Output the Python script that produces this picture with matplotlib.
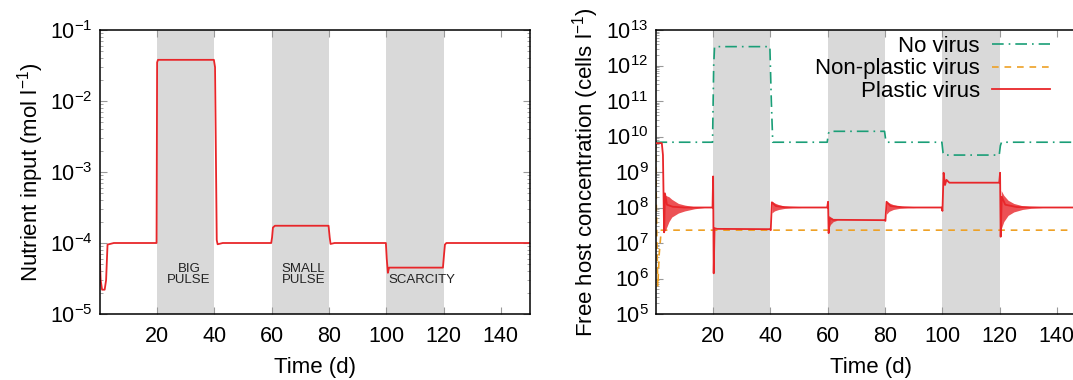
import matplotlib
matplotlib.use("Agg")
import matplotlib.pyplot as plt
import matplotlib.ticker as mticker
import numpy as np

plt.rcParams['font.family'] = ['Liberation Sans', 'DejaVu Sans']
plt.rcParams['mathtext.fontset'] = 'custom'
plt.rcParams['mathtext.rm'] = 'Liberation Sans'
plt.rcParams['mathtext.it'] = 'Liberation Sans:italic'

# --- data ---
periods = [(20, 40), (60, 80), (100, 120)]
period_labels = ["BIG\nPULSE", "SMALL\nPULSE", "SCARCITY"]
period_label_x = [31.2, 71.2, 112.3]
period_label_y = [3.6e-5, 3.6e-5, 3.0e-5]

nut_t = [0, 0.4, 0.9, 1.8, 2.3, 2.8, 5, 19.9, 20.1, 20.4, 39.9, 40.3, 40.9, 41.2, 43,
         59.9, 60.2, 60.5, 61.2, 79.9, 80.3, 80.6, 82,
         99.9, 100.2, 100.6, 101, 119.8, 120.2, 120.5, 121, 150]
nut_y = [7.6e-5, 3e-5, 2.2e-5, 2.2e-5, 3e-5, 9.5e-5, 1e-4, 1e-4, 3.5e-2, 3.8e-2, 3.8e-2, 3e-2, 1.1e-4, 9.6e-5, 1e-4,
         1e-4, 1.2e-4, 1.65e-4, 1.75e-4, 1.75e-4, 1.2e-4, 9.7e-5, 1e-4,
         1e-4, 6e-5, 3.8e-5, 4.5e-5, 4.5e-5, 7e-5, 9.5e-5, 1e-4, 1e-4]

novir_t = [0, 19.9, 20.3, 20.6, 39.9, 40.4, 40.9, 59.9, 60.3, 60.7, 79.9, 80.3, 80.7,
           99.9, 100.3, 100.7, 119.9, 120.3, 120.7, 150]
novir_y = [6.9e9, 6.9e9, 1e12, 3.4e12, 3.4e12, 1e11, 6.9e9, 6.9e9, 1.2e10, 1.4e10, 1.4e10, 8e9, 6.9e9,
           6.9e9, 3.5e9, 3.0e9, 3.0e9, 5.5e9, 6.9e9, 6.9e9]

nonpl_t = [0, 0.3, 0.8, 1.3, 2.0, 150]
nonpl_y = [6.9e9, 1e8, 6e5, 5e6, 2.3e7, 2.3e7]

plast_t = [0, 2.2, 2.6, 3.0, 3.3, 4, 6, 10, 19.9,
           20.1, 20.3, 20.6, 21.5, 39.9,
           40.2, 40.6, 42, 45, 50, 59.9,
           60.2, 60.4, 60.8, 62, 79.9,
           80.2, 80.6, 82, 86, 90, 99.8, 100.1,
           100.5, 101, 101.5, 102.5, 119.9,
           120.2, 120.4, 120.8, 122, 126, 134, 150]
plast_y = [6.5e9, 6.5e9, 3e9, 2e7, 2.5e8, 1.2e8, 1.05e8, 1e8, 1e8,
           7.5e8, 1.4e6, 2.6e7, 2.5e7, 2.45e7,
           2.3e7, 1.4e8, 1.1e8, 1.02e8, 1e8, 1e8,
           1.45e8, 1.9e7, 5e7, 4.5e7, 4.4e7,
           4.2e7, 1.45e8, 1.1e8, 1.02e8, 1e8, 1e8, 8e7,
           9.5e8, 4.3e8, 6e8, 5e8, 5e8,
           9.5e8, 1.5e7, 2e8, 1.2e8, 1.03e8, 1e8, 1e8]

# damped-oscillation envelopes of the plastic virus run (t, upper, lower)
osc_t = [[3.0, 3.5, 4.7, 5.7, 8, 10.2, 13.6, 17],
         [40.6, 41.5, 43, 45, 48, 51],
         [60.4, 61, 62, 63.5],
         [80.6, 81.5, 83, 85, 88, 91],
         [120.6, 121.5, 123, 125, 128, 131, 135]]
osc_hi = [[2.2e8, 2.2e8, 2e8, 1.7e8, 1.3e8, 1.17e8, 1.05e8, 1e8],
          [1.5e8, 1.35e8, 1.2e8, 1.1e8, 1.04e8, 1e8],
          [6e7, 5.5e7, 4.8e7, 4.4e7],
          [1.5e8, 1.35e8, 1.2e8, 1.1e8, 1.04e8, 1e8],
          [3e8, 2.2e8, 1.6e8, 1.3e8, 1.12e8, 1.05e8, 1e8]]
osc_lo = [[2.1e7, 2.3e7, 4e7, 5.4e7, 7e7, 8e7, 9.2e7, 1e8],
          [7e7, 8e7, 8.8e7, 9.4e7, 9.8e7, 1e8],
          [2.5e7, 3.3e7, 4e7, 4.4e7],
          [6.5e7, 7.8e7, 8.8e7, 9.4e7, 9.8e7, 1e8],
          [2.5e7, 4e7, 6e7, 7.5e7, 8.8e7, 9.5e7, 1e8]]

RED = '#e8262a'
GREEN = '#1a9e77'
ORANGE = '#eea125'
BAND = '#d9d9d9'

W, H = 1073, 380
fig = plt.figure(figsize=(W / 100, H / 100), dpi=100)
ax1 = fig.add_axes([99.5 / W, 66 / H, 430 / W, 284 / H])
ax2 = fig.add_axes([655.5 / W, 66 / H, 430 / W, 284 / H])


def style(ax):
    ax.set_xlim(0, 150)
    ax.set_yscale('log')
    ax.set_xticks([20, 40, 60, 80, 100, 120, 140])
    ax.yaxis.set_minor_locator(mticker.LogLocator(base=10, subs=np.arange(2, 10), numticks=100))
    ax.yaxis.set_minor_formatter(mticker.NullFormatter())
    ax.tick_params(which='both', direction='in', top=True, right=True, color='#999999',
                   labelsize=15.5, labelcolor='black')
    ax.tick_params(which='major', length=5, width=0.8)
    ax.tick_params(which='minor', length=2.5, width=0.6)
    ax.tick_params(axis='x', pad=9)
    ax.tick_params(axis='y', pad=5)
    for s in ax.spines.values():
        s.set_linewidth(1.1)
    for a, b in periods:
        ax.axvspan(a, b, color=BAND, lw=0, zorder=0)
    ax.set_xlabel('Time (d)', fontsize=16, labelpad=7)


# left panel
style(ax1)
ax1.set_ylim(1e-5, 1e-1)
ax1.plot(nut_t, nut_y, color=RED, lw=1.3)
for lab, x, y in zip(period_labels, period_label_x, period_label_y):
    ax1.text(x, y, lab, ha='center', va='center', multialignment='center',
             fontsize=9.5, color='#222222', linespacing=0.85)
ax1.set_ylabel('Nutrient input (mol l$^{-1}$)', fontsize=16, labelpad=3)

# right panel
style(ax2)
ax2.set_ylim(1e5, 1e13)
ax2.set_yticks([10.0 ** k for k in range(5, 14)])
l_no, = ax2.plot(novir_t, novir_y, color=GREEN, lw=1.2, dashes=(7, 3, 1, 3), label='No virus')
l_np, = ax2.plot(nonpl_t, nonpl_y, color=ORANGE, lw=1.2, dashes=(4, 3.5), label='Non-plastic virus')
for t, hi, lo in zip(osc_t, osc_hi, osc_lo):
    ax2.fill_between(t, lo, hi, color=RED, lw=0, alpha=0.8, zorder=3)
l_pl, = ax2.plot(plast_t, plast_y, color=RED, lw=1.3, label='Plastic virus', zorder=4)
ax2.set_ylabel('Free host concentration (cells l$^{-1}$)', fontsize=16, labelpad=4)
ax2.legend(handles=[l_no, l_np, l_pl], loc='upper right', bbox_to_anchor=(1050 / W, 1 - 36 / H),
           bbox_transform=fig.transFigure, frameon=False, markerfirst=False,
           handlelength=2.6, handletextpad=0.55, labelspacing=0.06, fontsize=16,
           borderpad=0, borderaxespad=0)

fig.savefig('out.png', dpi=100)
